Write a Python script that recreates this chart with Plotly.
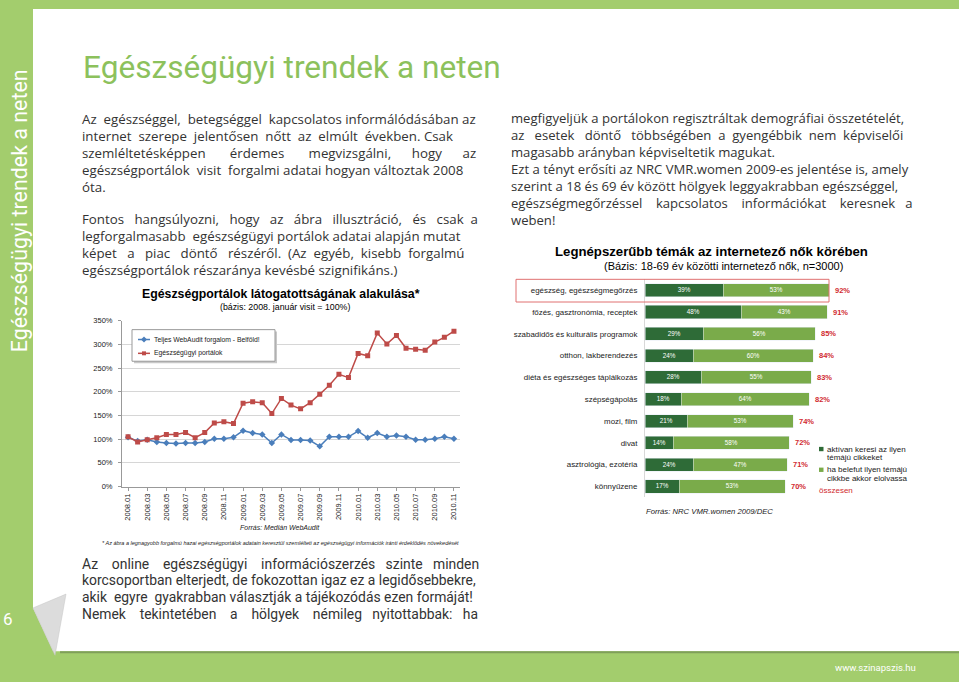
import plotly.graph_objects as go

W, H = 959, 682

# --- line chart data (index, 2008.01 = 100%) ---
months = [
    "2008.01", "2008.02", "2008.03", "2008.04", "2008.05", "2008.06", "2008.07",
    "2008.08", "2008.09", "2008.10", "2008.11", "2008.12", "2009.01", "2009.02",
    "2009.03", "2009.04", "2009.05", "2009.06", "2009.07", "2009.08", "2009.09",
    "2009.10", "2009.11", "2009.12", "2010.01", "2010.02", "2010.03", "2010.04",
    "2010.05", "2010.06", "2010.07", "2010.08", "2010.09", "2010.10", "2010.11",
]
webaudit_total = [104, 96, 99, 94, 92, 91, 92, 92, 94, 101, 101, 104, 118, 113,
                  110, 92, 110, 98, 98, 97, 85, 105, 105, 105, 117, 103, 113,
                  105, 108, 105, 99, 99, 101, 105, 101]
health_portals = [105, 94, 99, 103, 110, 110, 114, 103, 114, 134, 137, 133, 176,
                  179, 177, 154, 186, 172, 164, 177, 195, 214, 237, 230, 281,
                  276, 324, 301, 319, 292, 290, 288, 305, 315, 328]
line_names = ["Teljes WebAudit forgalom - Belföld!", "Egészségügyi portálok"]

# --- bar chart data (% of women online) ---
topics = [
    "egészség, egészségmegőrzés",
    "főzés, gasztronómia, receptek",
    "szabadidős és kulturális programok",
    "otthon, lakberendezés",
    "diéta és egészséges táplálkozás",
    "szépségápolás",
    "mozi, film",
    "divat",
    "asztrológia, ezotéria",
    "könnyűzene",
]
active = [39, 48, 29, 24, 28, 18, 21, 14, 24, 17]
passive = [53, 43, 56, 60, 55, 64, 53, 58, 47, 53]
totals = [92, 91, 85, 84, 83, 82, 74, 72, 71, 70]
bar_names = [["aktívan keresi az ilyen", "témájú cikkeket"],
             ["ha belefut ilyen témájú", "cikkbe akkor elolvassa"]]

left_par1 = [
    "Az egészséggel, betegséggel kapcsolatos informálódásában az",
    "internet szerepe jelentősen nőtt az elmúlt években. Csak",
    "szemléltetésképpen érdemes megvizsgálni, hogy az",
    "egészségportálok visit forgalmi adatai hogyan változtak 2008",
    "óta.",
]
left_par2 = [
    "Fontos hangsúlyozni, hogy az ábra illusztráció, és csak a",
    "legforgalmasabb egészségügyi portálok adatai alapján mutat",
    "képet a piac döntő részéről. (Az egyéb, kisebb forgalmú",
    "egészségportálok részaránya kevésbé szignifikáns.)",
]
right_par = [
    "megfigyeljük a portálokon regisztráltak demográfiai összetételét,",
    "az esetek döntő többségében a gyengébbik nem képviselői",
    "magasabb arányban képviseltetik magukat.",
    "Ezt a tényt erősíti az NRC VMR.women 2009-es jelentése is, amely",
    "szerint a 18 és 69 év között hölgyek leggyakrabban egészséggel,",
    "egészségmegőrzéssel kapcsolatos információkat keresnek a",
    "weben!",
]
bottom_par = [
    "Az online egészségügyi információszerzés szinte minden",
    "korcsoportban elterjedt, de fokozottan igaz ez a legidősebbekre,",
    "akik egyre gyakrabban választják a tájékozódás ezen formáját!",
    "Nemek tekintetében a hölgyek némileg nyitottabbak: ha",
]

# extra spaces per line to fake the justified columns of the page
pad_left1 = [3, 6, 22, 2, 0]
pad_left2 = [15, 1, 12, 0]
pad_right = [0, 10, 0, 0, 0, 11, 0]
pad_bottom = [13, 0, 2, 16]


def px(x):
    return x / W


def py(y):
    return 1 - y / H


def justify(line, extra):
    words = line.split(" ")
    gaps = [" "] * (len(words) - 1)
    for k in range(extra):
        if gaps:
            gaps[k % len(gaps)] += " "
    out = words[0]
    for g, w in zip(gaps, words[1:]):
        out += g + w
    return out


GREEN_BG = "#a3cd6d"
TITLE_GREEN = "#8cc15c"
BLUE = "#4a7ebb"
RED = "#be4b48"
DARK = "#2e6b37"
LIGHT = "#7aab4a"
TOTAL_RED = "#d12a2f"
BODY = "Open Sans, Lato, sans-serif"
NARROW = "Roboto, Liberation Sans Narrow, sans-serif"
ARIAL = "Liberation Sans, Arial, sans-serif"

fig = go.Figure()

# line chart
fig.add_trace(go.Scatter(
    x=list(range(len(months))), y=webaudit_total, name=line_names[0],
    mode="lines+markers", line=dict(color=BLUE, width=1.5),
    marker=dict(symbol="diamond", size=5, color=BLUE),
    xaxis="x", yaxis="y", showlegend=False))
fig.add_trace(go.Scatter(
    x=list(range(len(months))), y=health_portals, name=line_names[1],
    mode="lines+markers", line=dict(color=RED, width=1.5),
    marker=dict(symbol="square", size=5, color=RED),
    xaxis="x", yaxis="y", showlegend=False))

# bar chart
for vals, color, label in [(active, DARK, bar_names[0]),
                           (passive, LIGHT, bar_names[1])]:
    fig.add_trace(go.Bar(
        y=topics, x=vals, orientation="h", width=0.6,
        name=" ".join(label), marker=dict(color=color),
        text=[f"{v}%" for v in vals], textposition="inside",
        insidetextanchor="middle",
        textfont=dict(color="white", size=8, family=ARIAL),
        xaxis="x2", yaxis="y2", showlegend=False))

shapes = [
    # white page
    dict(type="rect", xref="paper", yref="paper", x0=px(33), x1=px(959),
         y0=py(656), y1=py(5), fillcolor="white", line_width=0, layer="below"),
    # bottom shadow of page
    dict(type="rect", xref="paper", yref="paper", x0=px(60), x1=px(959),
         y0=py(658), y1=py(656), fillcolor="#7f9f5a", line_width=0, layer="below"),
    # page curl
    dict(type="path", xref="paper", yref="paper",
         path=f"M {px(33)} {py(612)} L {px(33)} {py(660)} L {px(55)} {py(660)} Z",
         fillcolor=GREEN_BG, line_width=0),
    dict(type="path", xref="paper", yref="paper",
         path=f"M {px(33)} {py(612)} L {px(66)} {py(598)} L {px(55)} {py(660)} Z",
         fillcolor="#dcdcdc", line=dict(color="#c4c4c4", width=0.5)),
    # highlight frame on the first bar row
    dict(type="rect", xref="paper", yref="paper", x0=px(516), x1=px(829),
         y0=py(302), y1=py(279), line=dict(color="#e07070", width=1),
         fillcolor="rgba(0,0,0,0)"),
    # line chart legend box (shadow + box)
    dict(type="rect", xref="paper", yref="paper", x0=px(134), x1=px(277),
         y0=py(364), y1=py(332), fillcolor="#c8c8c8", line_width=0),
    dict(type="rect", xref="paper", yref="paper", x0=px(132), x1=px(275),
         y0=py(362), y1=py(330), fillcolor="white",
         line=dict(color="#999", width=1)),
]

annotations = []


def add_text(x, y, text, size, color="#333333", family=BODY, xanchor="left", **kw):
    annotations.append(dict(x=px(x), y=py(y), xref="paper", yref="paper",
                            text=text, showarrow=False, xanchor=xanchor,
                            yanchor="middle", font=dict(size=size, color=color,
                                                        family=family), **kw))


# line chart legend entries
for i, (name, color) in enumerate(zip(line_names, [BLUE, RED])):
    yy = 340 + i * 14
    shapes.append(dict(type="line", xref="paper", yref="paper",
                       x0=px(138), x1=px(150), y0=py(yy), y1=py(yy),
                       line=dict(color=color, width=1.5)))
    if i == 0:
        shapes.append(dict(type="path", xref="paper", yref="paper",
                           path=f"M {px(144)} {py(yy - 3)} L {px(147)} {py(yy)} "
                                f"L {px(144)} {py(yy + 3)} L {px(141)} {py(yy)} Z",
                           fillcolor=color, line_width=0))
    else:
        shapes.append(dict(type="rect", xref="paper", yref="paper",
                           x0=px(142), x1=px(146), y0=py(yy + 2), y1=py(yy - 2),
                           fillcolor=color, line_width=0))
    add_text(152, yy, name, 6.8, "#222", ARIAL)

# bar chart legend entries
for i, (label, color) in enumerate(zip(bar_names, [DARK, LIGHT])):
    yy = 451 + i * 21
    shapes.append(dict(type="rect", xref="paper", yref="paper",
                       x0=px(819), x1=px(823.5), y0=py(yy + 2.2), y1=py(yy - 2.2),
                       fillcolor=color, line_width=0))
    add_text(825, yy, label[0], 8, "#222", ARIAL)
    add_text(825, yy + 8.8, label[1], 8, "#222", ARIAL)
add_text(817, 492.5, "összesen", 8, TOTAL_RED, ARIAL)

add_text(81, 64, "Egészségügyi trendek a neten", 31.6, TITLE_GREEN, NARROW)
add_text(19, 210, "Egészségügyi trendek a neten", 21.4, "white", NARROW,
         xanchor="center", textangle=-90)
add_text(8, 623, "6", 17, "white", NARROW, xanchor="center")
add_text(918, 672, "www.szinapszis.hu", 9.5, "white", NARROW, xanchor="right")

for i, (line, pad) in enumerate(zip(left_par1, pad_left1)):
    add_text(80, 117 + i * 17.1, justify(line, pad), 13.3)
for i, (line, pad) in enumerate(zip(left_par2, pad_left2)):
    add_text(80, 218 + i * 17.1, justify(line, pad), 13.3)
for i, (line, pad) in enumerate(zip(right_par, pad_right)):
    add_text(509, 116 + i * 17.2, justify(line, pad), 13.1)
for i, (line, pad) in enumerate(zip(bottom_par, pad_bottom)):
    add_text(80, 567 + i * 17, justify(line, pad), 13.9, "#333333", NARROW)

# line chart titles and notes
add_text(281, 294, "<b>Egészségportálok látogatottságának alakulása*</b>", 12.3,
         "black", ARIAL, xanchor="center")
add_text(285, 307, "(bázis: 2008. január visit = 100%)", 8.8, "black", ARIAL,
         xanchor="center")
add_text(280, 531, "<i>Forrás: Medián WebAudit</i>", 7, "#222", ARIAL,
         xanchor="center")
add_text(280, 546, "<i>* Az ábra a legnagyobb forgalmú hazai egészségportálok adatain "
         "keresztül szemlélteti az egészségügyi információk iránti érdeklődés "
         "növekedését</i>", 5.5, "#222", ARIAL, xanchor="center")

# bar chart titles and notes
add_text(711, 251, "<b>Legnépszerűbb témák az internetező nők körében</b>", 13.2,
         "black", ARIAL, xanchor="center")
add_text(723, 266, "(Bázis: 18-69 év közötti internetező nők, n=3000)", 11,
         "black", ARIAL, xanchor="center")
add_text(709, 514, "<i>Forrás: NRC VMR.women 2009/DEC</i>", 7.7, "#222", ARIAL,
         xanchor="center")

# total labels next to the bars
for topic, total in zip(topics, totals):
    annotations.append(dict(x=total, y=topic, xref="x2", yref="y2",
                            text=f"<b>{total}%</b>", showarrow=False,
                            xanchor="left", xshift=4,
                            font=dict(size=7.5, color=TOTAL_RED, family=ARIAL)))

fig.update_layout(
    width=W, height=H,
    margin=dict(l=0, r=0, t=0, b=0),
    paper_bgcolor=GREEN_BG,
    plot_bgcolor="rgba(0,0,0,0)",
    barmode="stack",
    shapes=shapes,
    annotations=annotations,
    xaxis=dict(domain=[px(122), px(460)], range=[-0.63, 34.63],
               tickvals=list(range(0, len(months), 2)), ticktext=months[::2],
               tickangle=-90, tickfont=dict(size=7.5, family=ARIAL, color="#222"),
               showgrid=False, showline=True, linecolor="#999", ticks="outside",
               ticklen=3, tickcolor="#999", zeroline=False),
    yaxis=dict(domain=[py(489), py(321)], range=[0, 350], dtick=50,
               ticksuffix="%", tickfont=dict(size=7.5, family=ARIAL, color="#222"),
               gridcolor="#d6d6d6", showline=True, linecolor="#999",
               ticks="outside", ticklen=3, tickcolor="#999", zeroline=False,
               ticklabelstandoff=4),
    xaxis2=dict(domain=[px(645), px(845)], range=[0, 100], visible=False),
    yaxis2=dict(domain=[py(500), py(279)], autorange="reversed",
                tickfont=dict(size=7.9, family=ARIAL, color="#222"),
                showline=True, linecolor="#d8d8d8", ticks="", showgrid=False,
                ticklabelstandoff=5, anchor="x2"),
)

fig.write_html(
    "out.html",
    config={"displayModeBar": False},
    post_script="document.body.style.margin='0px';"
                "document.body.style.background='" + GREEN_BG + "';",
)
